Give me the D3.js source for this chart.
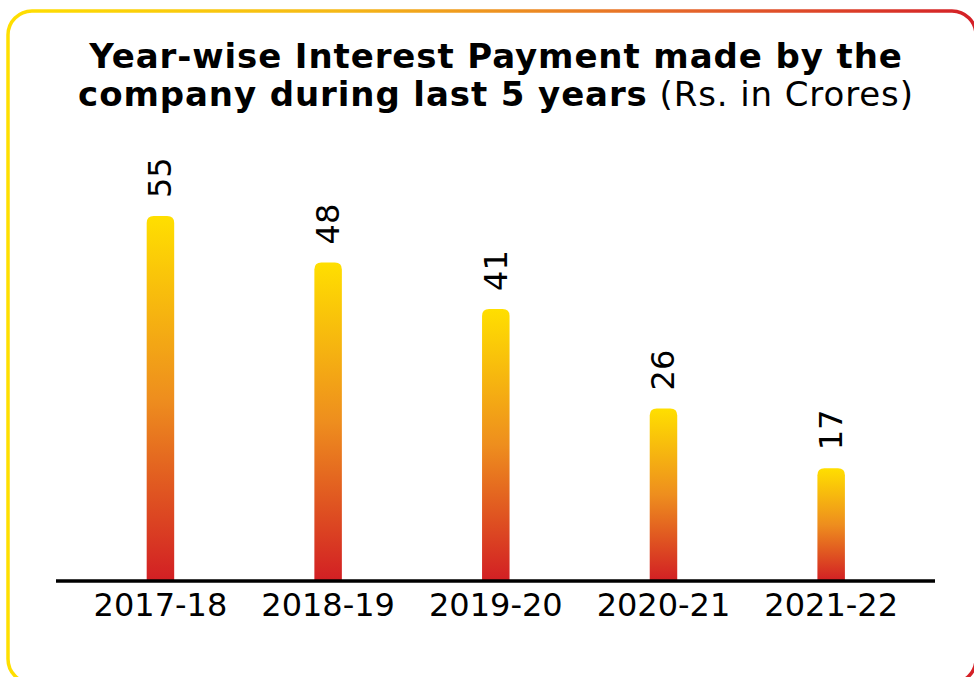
<!DOCTYPE html>
<html lang="en">
<head>
<meta charset="UTF-8">
<title>Year-wise Interest Payment</title>
<script src="https://d3js.org/d3.v7.min.js"></script>
<style>
    * { box-sizing: border-box; }
    body {
        margin: 0;
        background: #ffffff;
        font-family: Verdana, 'DejaVu Sans', sans-serif;
    }
    svg { display: block; }
</style>
</head>
<body>
<div id="chart"></div>
<script>
// Chart data
const years = ["2017-18", "2018-19", "2019-20", "2020-21", "2021-22"];
const interestPaid = [55, 48, 41, 26, 17];

const width = 974;
const height = 677;
const baseline = 581;

const svg = d3.select("#chart").append("svg")
    .attr("width", width)
    .attr("height", height);

const defs = svg.append("defs");

// frame gradient: yellow on the left, red on the right
const frameGrad = defs.append("linearGradient")
    .attr("id", "frameGrad")
    .attr("gradientUnits", "userSpaceOnUse")
    .attr("x1", 0).attr("y1", 0).attr("x2", width).attr("y2", 0);
frameGrad.append("stop").attr("offset", "0%").attr("stop-color", "#FFE000");
frameGrad.append("stop").attr("offset", "35%").attr("stop-color", "#F5B817");
frameGrad.append("stop").attr("offset", "70%").attr("stop-color", "#E5662A");
frameGrad.append("stop").attr("offset", "100%").attr("stop-color", "#D42027");

// each bar runs yellow -> orange -> red from top to bottom
const barGrad = defs.append("linearGradient")
    .attr("id", "barGrad")
    .attr("x1", 0).attr("y1", 0).attr("x2", 0).attr("y2", 1);
barGrad.append("stop").attr("offset", "0%").attr("stop-color", "#FFDF00");
barGrad.append("stop").attr("offset", "50%").attr("stop-color", "#EE8E1E");
barGrad.append("stop").attr("offset", "100%").attr("stop-color", "#D21F24");

svg.append("rect")
    .attr("x", 8)
    .attr("y", 11)
    .attr("width", 968)
    .attr("height", 672)
    .attr("rx", 24)
    .attr("fill", "none")
    .attr("stroke", "url(#frameGrad)")
    .attr("stroke-width", 3.5);

// title
const title = svg.append("text")
    .attr("x", 496)
    .attr("text-anchor", "middle")
    .attr("font-size", 34)
    .attr("letter-spacing", 0.9)
    .attr("fill", "#000");
title.append("tspan")
    .attr("x", 496).attr("y", 68)
    .attr("font-weight", "bold")
    .text("Year-wise Interest Payment made by the");
const line2 = title.append("tspan")
    .attr("x", 496).attr("y", 106);
line2.append("tspan").attr("font-weight", "bold").text("company during last 5 years");
line2.append("tspan").attr("font-weight", "normal").text(" (Rs. in Crores)");

// scales
const x = d3.scaleBand()
    .domain(years)
    .range([76.6, 915])
    .paddingInner(0.836)
    .paddingOuter(0.418);

const y = d3.scaleLinear()
    .domain([0, 55])
    .range([baseline, 216]);

const r = 7;
function barPath(d, i) {
    const x0 = x(years[i]);
    const w = x.bandwidth();
    const top = y(d);
    const bottom = baseline;
    return `M${x0},${bottom} L${x0},${top + r} Q${x0},${top} ${x0 + r},${top} ` +
        `L${x0 + w - r},${top} Q${x0 + w},${top} ${x0 + w},${top + r} L${x0 + w},${bottom} Z`;
}

svg.append("g").selectAll("path")
    .data(interestPaid)
    .join("path")
    .attr("d", barPath)
    .attr("fill", "url(#barGrad)");

// value labels, rotated
svg.append("g").selectAll("text")
    .data(interestPaid)
    .join("text")
    .attr("transform", (d, i) =>
        `translate(${x(years[i]) + x.bandwidth() / 2},${y(d) - 18}) rotate(-90)`)
    .attr("dominant-baseline", "central")
    .attr("text-anchor", "start")
    .attr("font-size", 32)
    .attr("fill", "#000")
    .text(d => d);

// x axis
const axis = svg.append("g")
    .attr("transform", `translate(0,${baseline})`)
    .call(d3.axisBottom(x).tickSize(0).tickPadding(12));
axis.select(".domain").remove();
axis.selectAll("text")
    .attr("font-family", "Verdana, 'DejaVu Sans', sans-serif")
    .attr("font-size", 32)
    .attr("fill", "#000");

svg.append("line")
    .attr("x1", 56).attr("x2", 935)
    .attr("y1", baseline).attr("y2", baseline)
    .attr("stroke", "#000")
    .attr("stroke-width", 3.5);
</script>
</body>
</html>
